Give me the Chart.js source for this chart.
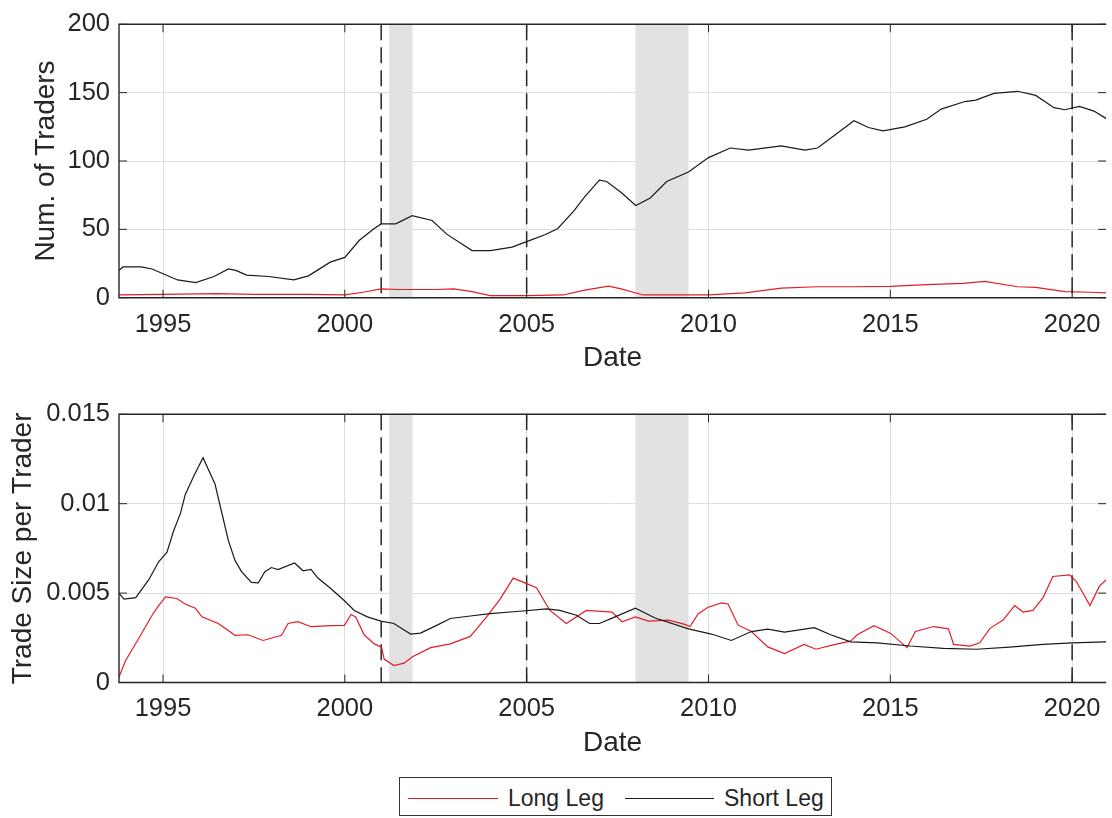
<!DOCTYPE html>
<html>
<head>
<meta charset="utf-8">
<script src="https://cdn.jsdelivr.net/npm/chart.js@4.4.0/dist/chart.umd.min.js"></script>
<style>
  html, body { margin: 0; padding: 0; background: #fff; overflow: hidden; }
  #contenedor { position: relative; width: 1112px; height: 818px; }
  canvas { position: absolute; left: 0; }
  #graficaTraders { top: 0; }
  #graficaTamano { top: 390px; }
  #leyenda {
    position: absolute; left: 399px; top: 777px; width: 431px; height: 37px;
    border: 1px solid #333; background: #fff;
    font-family: 'Liberation Sans', Arial, sans-serif; font-size: 23px; color: #262626;
  }
  .muestra { position: absolute; top: 20px; height: 0; border-top: 1.3px solid; }
  .texto { position: absolute; top: 8.5px; line-height: 23px; white-space: nowrap; }
</style>
</head>
<body>
<div id="contenedor">
  <canvas id="graficaTraders" width="1112" height="390"></canvas>
  <canvas id="graficaTamano" width="1112" height="428"></canvas>
  <div id="leyenda">
    <span class="muestra" style="left:8px; width:90px; border-color:#e31e28;"></span>
    <span class="texto" style="left:108px;">Long Leg</span>
    <span class="muestra" style="left:225px; width:89px; border-color:#1a1a1a;"></span>
    <span class="texto" style="left:324px;">Short Leg</span>
  </div>
</div>
<script>
// Número de traders (pata corta)
const fechasNumCorto = [1993.79, 1993.9, 1994.4, 1994.7, 1995.0, 1995.4, 1995.9, 1996.4, 1996.8, 1997.0,
  1997.3, 1997.9, 1998.6, 1999.0, 1999.6, 2000.0, 2000.4, 2000.8, 2001.0, 2001.4,
  2001.85, 2002.4, 2002.8, 2003.5, 2004.0, 2004.6, 2005.0, 2005.5, 2005.85, 2006.3,
  2006.6, 2007.0, 2007.2, 2007.6, 2008.0, 2008.4, 2008.85, 2009.45, 2010.0, 2010.6,
  2011.1, 2012.0, 2012.65, 2013.0, 2013.45, 2014.0, 2014.4, 2014.8, 2015.4, 2016.0,
  2016.4, 2017.05, 2017.35, 2017.85, 2018.5, 2019.0, 2019.5, 2019.8, 2020.2, 2020.6, 2020.94];
const numCorto = [20, 22.5, 22.5, 21, 17.5, 13, 11, 15.5, 21, 20,
  16.5, 15.5, 13, 16, 26, 29.5, 42, 50.5, 54, 54,
  60, 56.5, 46.5, 34.5, 34.5, 37, 41, 46, 50.5, 63.5,
  74, 86, 85, 77, 67.5, 73, 85, 92, 102.5, 109.5,
  108, 111, 108, 109.5, 118.5, 129.5, 124.5, 122, 125, 130.5,
  138, 143.5, 144.5, 149.5, 151, 148, 139, 137.5, 140, 136.5, 131];

// Número de traders (pata larga)
const fechasNumLargo = [1993.79, 1995.0, 1996.5, 1997.5, 1999.0, 2000.0, 2000.5, 2001.0, 2001.5, 2002.5,
  2003.0, 2003.5, 2004.0, 2005.0, 2006.0, 2006.6, 2007.25, 2007.6, 2008.2, 2009.4,
  2010.0, 2011.0, 2012.0, 2013.0, 2014.0, 2015.0, 2016.0, 2017.0, 2017.6, 2018.5,
  2019.0, 2019.8, 2020.5, 2020.94];
const numLargo = [2, 2.5, 3, 2.5, 2.5, 2, 4, 6.5, 6, 6,
  6.5, 4.5, 1.5, 1.5, 2, 5.5, 8.5, 6.5, 2, 2,
  2, 3.5, 7, 8, 8, 8.3, 9.5, 10.5, 12, 8,
  7.5, 4.5, 4, 3.5];

// Tamaño por trader (pata corta)
const fechasTamCorto = [1993.79, 1993.93, 1994.25, 1994.61, 1994.88, 1995.11, 1995.29, 1995.48, 1995.61, 1995.86,
  1996.1, 1996.43, 1996.61, 1996.8, 1996.98, 1997.16, 1997.43, 1997.62, 1997.8, 1997.98,
  1998.16, 1998.62, 1998.85, 1999.07, 1999.26, 1999.62, 1999.99, 2000.26, 2000.62, 2000.99,
  2001.35, 2001.63, 2001.81, 2002.08, 2002.54, 2002.9, 2003.45, 2003.99, 2004.72, 2005.55,
  2005.91, 2006.37, 2006.73, 2007.0, 2007.35, 2007.99, 2008.53, 2009.45, 2010.08, 2010.63,
  2011.18, 2011.63, 2012.09, 2012.91, 2013.36, 2013.91, 2014.64, 2015.55, 2016.46, 2017.37,
  2018.28, 2019.2, 2019.99, 2020.94];
const tamCorto = [0.00499, 0.00466, 0.00475, 0.00575, 0.00675, 0.00729, 0.00847, 0.00946, 0.0105, 0.0116,
  0.01257, 0.0111, 0.00955, 0.00792, 0.00683, 0.0062, 0.0056, 0.00557, 0.0062, 0.00643,
  0.00632, 0.00668, 0.00625, 0.00632, 0.00584, 0.00524, 0.00457, 0.00403, 0.00367, 0.00343,
  0.0033, 0.00294, 0.00271, 0.00276, 0.00321, 0.00358, 0.00372, 0.00385, 0.00397, 0.00412,
  0.00403, 0.00376, 0.0033, 0.0033, 0.0036, 0.00416, 0.00361, 0.003, 0.00271, 0.00235,
  0.00285, 0.00298, 0.00282, 0.00307, 0.00267, 0.00227, 0.00222, 0.00204, 0.00191, 0.00186,
  0.00198, 0.00213, 0.00222, 0.00227];

// Tamaño por trader (pata larga)
const fechasTamLargo = [1993.79, 1993.97, 1994.34, 1994.7, 1994.88, 1995.07, 1995.38, 1995.61, 1995.89, 1996.07,
  1996.52, 1996.98, 1997.34, 1997.75, 1998.26, 1998.44, 1998.71, 1999.07, 1999.62, 1999.99,
  2000.17, 2000.3, 2000.53, 2000.81, 2001.01, 2001.08, 2001.35, 2001.63, 2001.86, 2002.36,
  2002.9, 2003.45, 2003.9, 2004.27, 2004.63, 2004.95, 2005.27, 2005.64, 2006.09, 2006.64,
  2007.35, 2007.62, 2007.99, 2008.35, 2008.9, 2009.35, 2009.49, 2009.72, 2009.99, 2010.36,
  2010.54, 2010.81, 2011.18, 2011.63, 2012.09, 2012.63, 2012.95, 2013.55, 2013.91, 2014.09,
  2014.55, 2015.0, 2015.46, 2015.69, 2016.19, 2016.6, 2016.74, 2017.19, 2017.46, 2017.74,
  2018.1, 2018.42, 2018.65, 2018.92, 2019.2, 2019.47, 2019.93, 2020.11, 2020.29, 2020.49,
  2020.75, 2020.94];
const tamLargo = [0.0003, 0.00122, 0.00249, 0.00376, 0.0043, 0.00479, 0.0047, 0.00439, 0.00416, 0.00367,
  0.0033, 0.00264, 0.00267, 0.00235, 0.00264, 0.0033, 0.0034, 0.00312, 0.00318, 0.0032,
  0.0038, 0.00367, 0.00267, 0.00216, 0.00198, 0.00131, 0.00095, 0.00108, 0.00144, 0.00195,
  0.00216, 0.00258, 0.00367, 0.00466, 0.00584, 0.00557, 0.0053, 0.00403, 0.0033, 0.00403,
  0.00394, 0.0034, 0.00367, 0.00343, 0.00349, 0.00325, 0.00313, 0.00385, 0.00421, 0.00445,
  0.00439, 0.00322, 0.00285, 0.00199, 0.00162, 0.00213, 0.00186, 0.00216, 0.00231, 0.00267,
  0.00318, 0.00276, 0.00195, 0.00285, 0.00313, 0.003, 0.00213, 0.00204, 0.00222, 0.00303,
  0.00349, 0.0043, 0.00394, 0.00403, 0.00475, 0.00593, 0.00602, 0.00566, 0.00503, 0.0043,
  0.00539, 0.00575];

// Ejes y marcas
const ticksX = [1995, 2000, 2005, 2010, 2015, 2020];
const ticksNum = [0, 50, 100, 150, 200];
const ticksTam = [0, 0.005, 0.01, 0.015];
const recesionInicio = [2001.22, 2007.99];
const recesionFin = [2001.86, 2009.45];
const eventos = [2001.0, 2005.0, 2020.0];
const xMin = 1993.79;
const xMax = 2020.935;

const fuente = "'Liberation Sans', Arial, sans-serif";
const colorTexto = '#262626';
const colorRojo = '#e31e28';
const colorNegro = '#1a1a1a';

function puntos(fechas, valores) {
    return fechas.map((f, i) => ({ x: f, y: valores[i] }));
}

// Sombreado de recesiones, líneas discontinuas, marcas hacia dentro y caja
const marco = {
    id: 'marco',
    beforeDatasetsDraw(chart) {
        const { ctx, chartArea: a } = chart;
        const x = chart.scales.x;
        ctx.save();
        ctx.fillStyle = '#e2e2e2';
        for (let i = 0; i < recesionInicio.length; i++) {
            const x0 = x.getPixelForValue(recesionInicio[i]);
            const x1 = x.getPixelForValue(recesionFin[i]);
            ctx.fillRect(x0, a.top, x1 - x0, a.bottom - a.top);
        }
        ctx.strokeStyle = colorTexto;
        ctx.lineWidth = 1.5;
        ctx.setLineDash([16, 7]);
        eventos.forEach(e => {
            const px = x.getPixelForValue(e);
            ctx.beginPath();
            ctx.moveTo(px, a.top);
            ctx.lineTo(px, a.bottom);
            ctx.stroke();
        });
        ctx.restore();
    },
    afterDatasetsDraw(chart) {
        const { ctx, chartArea: a } = chart;
        const x = chart.scales.x, y = chart.scales.y;
        ctx.save();
        ctx.strokeStyle = colorTexto;
        ctx.lineWidth = 1;
        ctx.beginPath();
        x.ticks.forEach(t => {
            const px = x.getPixelForValue(t.value);
            ctx.moveTo(px, a.bottom); ctx.lineTo(px, a.bottom - 8);
            ctx.moveTo(px, a.top); ctx.lineTo(px, a.top + 8);
        });
        y.ticks.forEach(t => {
            const py = y.getPixelForValue(t.value);
            ctx.moveTo(a.left, py); ctx.lineTo(a.left + 8, py);
            ctx.moveTo(a.right, py); ctx.lineTo(a.right - 8, py);
        });
        ctx.stroke();
        ctx.lineWidth = 1.4;
        ctx.beginPath();
        ctx.moveTo(a.right, a.top);
        ctx.lineTo(a.left, a.top);
        ctx.lineTo(a.left, a.bottom);
        ctx.lineTo(a.right, a.bottom);
        ctx.stroke();
        ctx.restore();
    }
};

function crearGrafica(idCanvas, corto, largo, ticksY, yMax, tituloY, relleno, ejeIzq, tituloIzq) {
    const ctx = document.getElementById(idCanvas).getContext('2d');
    return new Chart(ctx, {
        type: 'line',
        data: {
            datasets: [{
                label: 'Long Leg',
                data: largo,
                borderColor: colorRojo,
                borderWidth: 1.2,
                pointRadius: 0,
                tension: 0,
                order: 2
            }, {
                label: 'Short Leg',
                data: corto,
                borderColor: colorNegro,
                borderWidth: 1.2,
                pointRadius: 0,
                tension: 0,
                order: 1
            }]
        },
        options: {
            responsive: false,
            animation: false,
            layout: { padding: relleno },
            plugins: {
                legend: { display: false },
                tooltip: { enabled: false }
            },
            scales: {
                x: {
                    type: 'linear',
                    min: xMin,
                    max: xMax,
                    afterBuildTicks: (eje) => { eje.ticks = ticksX.map(v => ({ value: v })); },
                    afterFit: (eje) => { eje.height = 77.3; },
                    grid: { color: '#dedede', lineWidth: 1, drawTicks: false },
                    border: { display: false },
                    ticks: {
                        autoSkip: false,
                        maxRotation: 0,
                        padding: 11.5,
                        color: colorTexto,
                        font: { family: fuente, size: 25.5 },
                        callback: (v) => String(v)
                    },
                    title: {
                        display: true,
                        text: 'Date',
                        color: colorTexto,
                        font: { family: fuente, size: 28 },
                        padding: { top: 0, bottom: 0 }
                    }
                },
                y: {
                    min: 0,
                    max: yMax,
                    afterBuildTicks: (eje) => { eje.ticks = ticksY.map(v => ({ value: v })); },
                    afterFit: (eje) => { eje.width = ejeIzq; },
                    grid: { color: '#dedede', lineWidth: 1, drawTicks: false },
                    border: { display: false },
                    ticks: {
                        padding: 9,
                        color: colorTexto,
                        font: { family: fuente, size: 25.5 },
                        callback: (v) => String(Number(v.toFixed(3)))
                    },
                    title: {
                        display: true,
                        text: tituloY,
                        color: colorTexto,
                        font: { family: fuente, size: 28 },
                        padding: { top: tituloIzq, bottom: 0 }
                    }
                }
            }
        },
        plugins: [marco]
    });
}

crearGrafica('graficaTraders',
    puntos(fechasNumCorto, numCorto), puntos(fechasNumLargo, numLargo),
    ticksNum, 200, 'Num. of Traders',
    { top: 17.7, right: 0, bottom: 15, left: 0 }, 119, 29);

crearGrafica('graficaTamano',
    puntos(fechasTamCorto, tamCorto), puntos(fechasTamLargo, tamLargo),
    ticksTam, 0.015, 'Trade Size per Trader',
    { top: 16.7, right: 0, bottom: 58.2, left: 0 }, 119, 6);
</script>
</body>
</html>
